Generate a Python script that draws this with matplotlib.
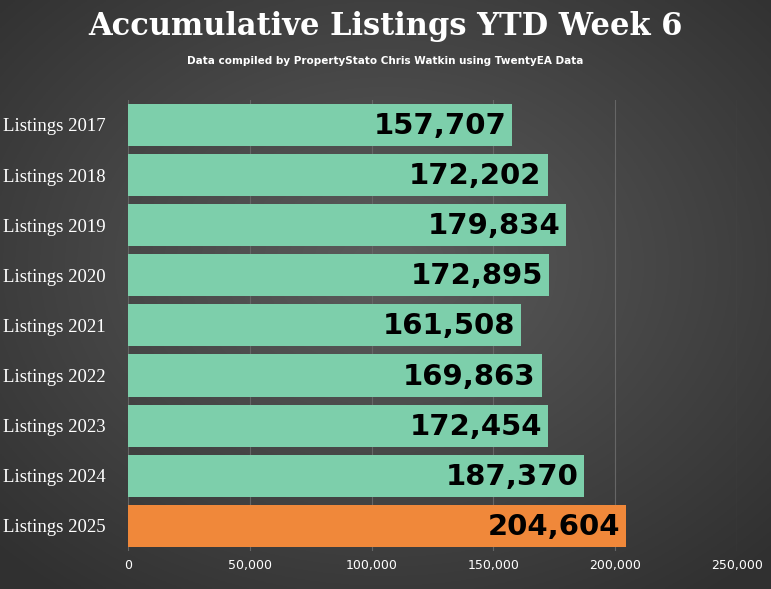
import matplotlib.pyplot as plt
import numpy as np

# data
categories = ['Listings 2017', 'Listings 2018', 'Listings 2019', 'Listings 2020', 'Listings 2021',
              'Listings 2022', 'Listings 2023', 'Listings 2024', 'Listings 2025']
values = [157707, 172202, 179834, 172895, 161508, 169863, 172454, 187370, 204604]
xticks = [0, 50000, 100000, 150000, 200000, 250000]

fig = plt.figure(figsize=(7.71, 5.89), dpi=100)

# radial gradient background, dark grey
bg = fig.add_axes([0, 0, 1, 1], zorder=-10)
yy, xx = np.mgrid[-1:1:300j, -1:1:400j]
r = np.clip(np.sqrt(xx**2 + (yy + 0.1)**2) / 1.4, 0, 1)
shade = 0.36 - 0.17 * r
bg.imshow(np.dstack([shade] * 3), aspect='auto', extent=[0, 1, 0, 1])
bg.axis('off')

ax = fig.add_axes([0.166, 0.0645, 0.790, 0.766])
ax.set_facecolor('none')
colors = ['#7dcfab'] * (len(values) - 1) + ['#f0883a']
y = np.arange(len(values))[::-1]
ax.barh(y, values, height=0.84, color=colors, zorder=3)
for yi, v in zip(y, values):
    ax.text(v - 2500, yi - 0.02, f'{v:,}', ha='right', va='center', fontsize=21,
            fontweight='heavy', color='black', zorder=4, family='DejaVu Sans')

ax.set_xlim(0, 250000)
ax.set_ylim(-0.5, len(values) - 0.5)
ax.set_xticks(xticks)
ax.set_xticklabels([f'{t:,}' for t in xticks], color='white', fontsize=9)
ax.set_yticks(y)
ax.set_yticklabels(categories, color='white', fontsize=13.5, family='Liberation Serif')
ax.tick_params(length=0, pad=6)
ax.tick_params(axis='y', pad=16)
ax.grid(axis='x', color='#666666', linewidth=0.8, zorder=0)
for s in ax.spines.values():
    s.set_visible(False)

fig.text(0.5, 0.955, 'Accumulative Listings YTD Week 6', ha='center', va='center',
         color='white', fontsize=22, fontweight='bold', family='DejaVu Serif')
fig.text(0.5, 0.897, 'Data compiled by PropertyStato Chris Watkin using TwentyEA Data',
         ha='center', va='center', color='white', fontsize=7.5, fontweight='bold')

fig.savefig('out.png', dpi=100)
